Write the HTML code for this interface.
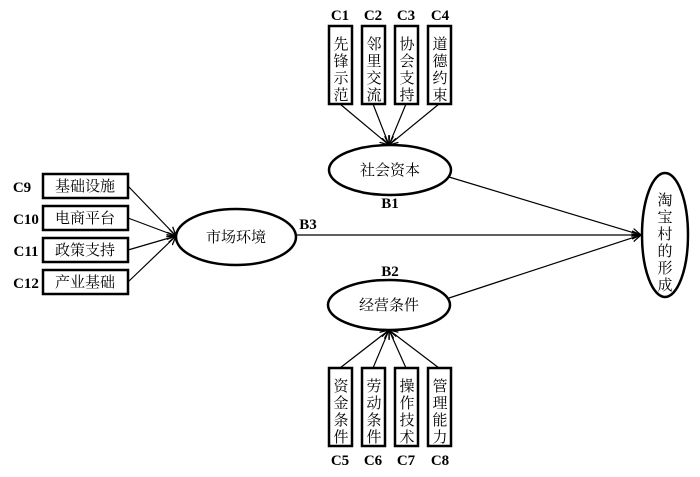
<!DOCTYPE html>
<html><head><meta charset="utf-8"><style>
html,body{margin:0;padding:0;background:#fff;}
svg text{font-family:"Liberation Serif","Noto Serif CJK SC",serif;fill:#000;}
.c{font-size:15px;font-weight:bold;}
.z{font-size:15px;}
</style></head><body>
<svg width="700" height="472" viewBox="0 0 700 472" xmlns="http://www.w3.org/2000/svg">
<defs><marker id="a" markerWidth="10" markerHeight="10" refX="9" refY="5" orient="auto" markerUnits="userSpaceOnUse"><path d="M0,1 L9,5 L0,9" fill="none" stroke="#000" stroke-width="1.3"/></marker></defs>
<g stroke="#000" stroke-width="2.5" fill="#fff">
<rect x="329" y="26" width="23" height="78"/><rect x="362" y="26" width="23" height="78"/><rect x="395" y="26" width="23" height="78"/><rect x="428" y="26" width="23" height="78"/>
<rect x="329" y="368" width="23" height="78"/><rect x="362" y="368" width="23" height="78"/><rect x="395" y="368" width="23" height="78"/><rect x="428" y="368" width="23" height="78"/>
<rect x="43" y="174" width="85" height="24"/><rect x="43" y="206" width="85" height="24"/><rect x="43" y="238" width="85" height="24"/><rect x="43" y="270" width="85" height="24"/>
<ellipse cx="390" cy="170" rx="61" ry="25"/><ellipse cx="389" cy="305" rx="61" ry="25"/><ellipse cx="236" cy="237" rx="60" ry="28"/><ellipse cx="665" cy="235" rx="23" ry="62"/>
</g>
<g stroke="#000" stroke-width="1.2" fill="none" marker-end="url(#a)">
<line x1="340" y1="104" x2="389" y2="145"/><line x1="373" y1="104" x2="389" y2="145"/><line x1="406" y1="104" x2="389" y2="145"/><line x1="439" y1="104" x2="389" y2="145"/>
<line x1="340" y1="368" x2="389" y2="330"/><line x1="373" y1="368" x2="389" y2="330"/><line x1="406" y1="368" x2="389" y2="330"/><line x1="439" y1="368" x2="389" y2="330"/>
<line x1="128" y1="186" x2="176" y2="236"/><line x1="128" y1="218" x2="176" y2="236"/><line x1="128" y1="250" x2="176" y2="236"/><line x1="128" y1="282" x2="176" y2="236"/>
<line x1="449" y1="177" x2="641" y2="235"/><line x1="296" y1="235" x2="641" y2="235"/><line x1="449" y1="298" x2="641" y2="235"/>
</g>
<g class="c" text-anchor="middle">
<text x="340" y="20">C1</text><text x="373" y="20">C2</text><text x="406" y="20">C3</text><text x="440" y="20">C4</text>
<text x="340" y="465">C5</text><text x="373" y="465">C6</text><text x="406" y="465">C7</text><text x="440" y="465">C8</text>
<text x="390" y="208">B1</text><text x="390" y="276">B2</text><text x="308" y="229">B3</text>
<text x="22" y="192">C9</text><text x="26" y="224">C10</text><text x="26" y="256">C11</text><text x="26" y="288">C12</text>
</g>
<g class="z" text-anchor="middle">
<text x="85" y="191">基础设施</text><text x="85" y="223">电商平台</text><text x="85" y="255">政策支持</text><text x="85" y="287">产业基础</text>
<text x="390" y="175">社会资本</text><text x="389" y="310">经营条件</text><text x="236" y="242">市场环境</text>
</g>
<g class="z" text-anchor="middle">
<text x="341" y="49">先</text><text x="341" y="66">锋</text><text x="341" y="83">示</text><text x="341" y="100">范</text>
<text x="374" y="49">邻</text><text x="374" y="66">里</text><text x="374" y="83">交</text><text x="374" y="100">流</text>
<text x="407" y="49">协</text><text x="407" y="66">会</text><text x="407" y="83">支</text><text x="407" y="100">持</text>
<text x="440" y="49">道</text><text x="440" y="66">德</text><text x="440" y="83">约</text><text x="440" y="100">束</text>
<text x="341" y="391">资</text><text x="341" y="408">金</text><text x="341" y="425">条</text><text x="341" y="442">件</text>
<text x="374" y="391">劳</text><text x="374" y="408">动</text><text x="374" y="425">条</text><text x="374" y="442">件</text>
<text x="407" y="391">操</text><text x="407" y="408">作</text><text x="407" y="425">技</text><text x="407" y="442">术</text>
<text x="440" y="391">管</text><text x="440" y="408">理</text><text x="440" y="425">能</text><text x="440" y="442">力</text>
<text x="665" y="205">淘</text><text x="665" y="222">宝</text><text x="665" y="239">村</text><text x="665" y="256">的</text><text x="665" y="273">形</text><text x="665" y="290">成</text>
</g>
</svg>
</body></html>
